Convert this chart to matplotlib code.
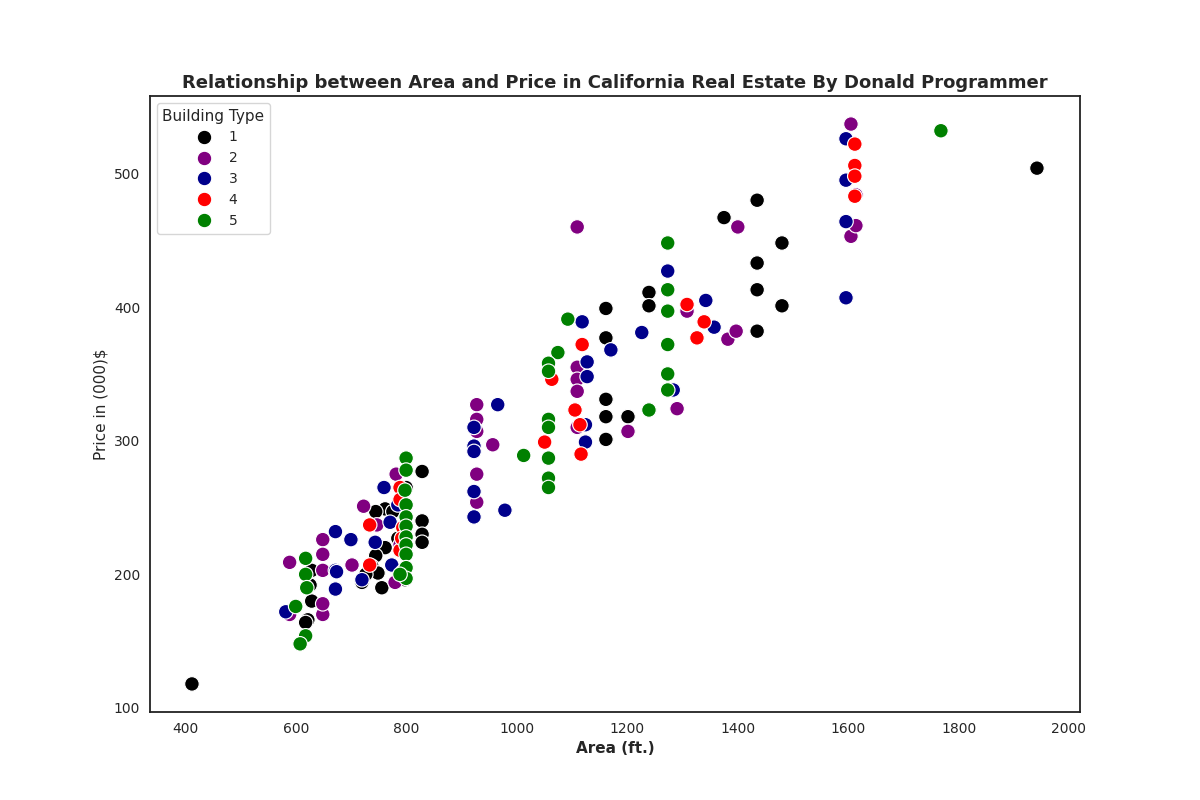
import numpy as np
import pandas as pd
import matplotlib
matplotlib.use('Agg')
import matplotlib.pyplot as plt
import seaborn as sns

# building type 1..5
area_1 = [411, 1942, 1375, 1435, 1480, 1435, 1435, 1435, 1480, 1239, 1239, 1161, 1161, 1161, 1161, 1201, 1161,
          828, 828, 828, 828, 799, 755, 719, 761, 744, 775, 797, 784, 761, 744, 737, 748, 726, 797, 628, 621, 617, 625, 628]
price_1 = [118, 504, 467, 480, 448, 433, 413, 382, 401, 411, 401, 399, 377, 331, 318, 318, 301,
           277, 240, 230, 224, 265, 190, 194, 249, 247, 247, 235, 227, 220, 214, 206, 201, 200, 196, 180, 166, 164, 192, 203]
area_2 = [1605, 1605, 1614, 1400, 1109, 1308, 1382, 1397, 1290, 1201, 1109, 1109, 1109, 1109, 956, 927, 927, 927, 927, 927, 1614,
          588, 588, 648, 648, 648, 648, 648, 722, 746, 701, 779, 788, 781]
price_2 = [537, 453, 461, 460, 460, 397, 376, 382, 324, 307, 355, 346, 337, 310, 297, 327, 316, 307, 275, 254, 484,
           209, 170, 170, 178, 226, 215, 203, 251, 237, 207, 194, 222, 275]
area_3 = [1596, 1596, 1596, 1596, 1273, 1342, 1357, 1226, 1118, 1170, 1127, 1127, 1124, 1124, 1283, 965, 978, 922, 922, 922, 922, 922,
          581, 671, 671, 671, 699, 673, 719, 759, 770, 743, 773, 784]
price_3 = [526, 495, 464, 407, 427, 405, 385, 381, 389, 368, 359, 348, 312, 299, 338, 327, 248, 243, 262, 296, 292, 310,
           172, 189, 232, 203, 226, 202, 196, 265, 239, 224, 207, 252]
area_4 = [1612, 1612, 1612, 1612, 1308, 1339, 1326, 1118, 1063, 1050, 1105, 1114, 1116,
          733, 733, 788, 788, 793, 788, 793, 791]
price_4 = [522, 506, 498, 483, 402, 389, 377, 372, 346, 299, 323, 312, 290,
           207, 237, 265, 256, 235, 218, 202, 227]
area_5 = [1768, 1273, 1273, 1273, 1273, 1273, 1273, 1239, 1092, 1074, 1057, 1057, 1057, 1057, 1057, 1057, 1057, 1012,
          799, 799, 797, 799, 799, 799, 799, 799, 799, 799, 799, 788, 617, 617, 619, 599, 617, 607]
price_5 = [532, 448, 413, 397, 372, 350, 338, 323, 391, 366, 358, 352, 316, 310, 287, 272, 265, 289,
           287, 278, 263, 252, 243, 236, 228, 222, 215, 205, 197, 200, 212, 200, 190, 176, 154, 148]

areas = [area_1, area_2, area_3, area_4, area_5]
prices = [price_1, price_2, price_3, price_4, price_5]
rows = []
for t in range(5):
    for a, p in zip(areas[t], prices[t]):
        rows.append((a, p, t + 1))
df = pd.DataFrame(rows, columns=['area', 'price', 'type'])

sns.set_style('white')
fig = plt.figure(figsize=(12, 8), dpi=100)
ax = sns.scatterplot(data=df, x='area', y='price', hue='type', s=110, edgecolor='white',
                     palette=['black', 'purple', 'darkblue', 'red', 'green'])
for sp in ax.spines.values():
    sp.set_color('#222222')
    sp.set_linewidth(1.3)
ax.set_xticks([400, 600, 800, 1000, 1200, 1400, 1600, 1800, 2000])
ax.set_yticks([100, 200, 300, 400, 500])
ax.set_xlim(335, 2020)
ax.set_ylim(97, 558)
ax.set_title('Relationship between Area and Price in California Real Estate By Donald Programmer',
             fontsize=13, fontweight='bold')
ax.set_xlabel('Area (ft.)', fontsize=11, fontweight='bold')
ax.set_ylabel('Price in (000)$', fontsize=11)
ax.legend(title='Building Type', loc='upper left', fontsize=10, title_fontsize=11)
plt.savefig('out.png')
